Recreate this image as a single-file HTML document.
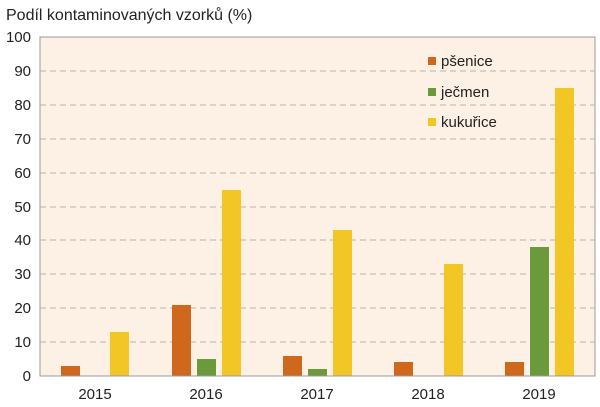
<!DOCTYPE html>
<html><head><meta charset="utf-8"><style>body{margin:0;background:#fff}svg{display:block}text{font-family:"Liberation Sans",sans-serif;fill:#222}</style></head><body>
<svg width="600" height="407" viewBox="0 0 600 407">
<text x="6" y="20" font-size="16">Podíl kontaminovaných vzorků (%)</text>
<rect x="40" y="37" width="555" height="339" fill="#fcf1e4" stroke="#9a9a9a" stroke-width="1"/>
<g stroke="#b8b2aa" stroke-width="1" stroke-dasharray="6,4">
<line x1="40" x2="595" y1="71" y2="71"/><line x1="40" x2="595" y1="105" y2="105"/><line x1="40" x2="595" y1="139" y2="139"/><line x1="40" x2="595" y1="173" y2="173"/><line x1="40" x2="595" y1="207" y2="207"/><line x1="40" x2="595" y1="240" y2="240"/><line x1="40" x2="595" y1="274" y2="274"/><line x1="40" x2="595" y1="308" y2="308"/><line x1="40" x2="595" y1="342" y2="342"/>
</g>
<g font-size="15" text-anchor="end">
<text x="31" y="42">100</text><text x="31" y="76">90</text><text x="31" y="110">80</text><text x="31" y="144">70</text><text x="31" y="178">60</text><text x="31" y="212">50</text><text x="31" y="245">40</text><text x="31" y="279">30</text><text x="31" y="313">20</text><text x="31" y="347">10</text><text x="31" y="381">0</text>
</g>
<g>
<rect x="61" y="366" width="19" height="10" fill="#cf671c"/><rect x="110" y="332" width="19" height="44" fill="#f2c624"/>
<rect x="172" y="305" width="19" height="71" fill="#cf671c"/><rect x="197" y="359" width="19" height="17" fill="#6a9a3c"/><rect x="222" y="190" width="19" height="186" fill="#f2c624"/>
<rect x="283" y="356" width="19" height="20" fill="#cf671c"/><rect x="308" y="369" width="19" height="7" fill="#6a9a3c"/><rect x="333" y="230" width="19" height="146" fill="#f2c624"/>
<rect x="394" y="362" width="19" height="14" fill="#cf671c"/><rect x="444" y="264" width="19" height="112" fill="#f2c624"/>
<rect x="505" y="362" width="19" height="14" fill="#cf671c"/><rect x="530" y="247" width="19" height="129" fill="#6a9a3c"/><rect x="555" y="88" width="19" height="288" fill="#f2c624"/>
</g>
<line x1="40" x2="595" y1="376" y2="376" stroke="#9a9a9a"/>
<g font-size="15" text-anchor="middle">
<text x="95" y="399">2015</text><text x="206" y="399">2016</text><text x="317" y="399">2017</text><text x="428" y="399">2018</text><text x="539" y="399">2019</text>
</g>
<rect x="428" y="57" width="8" height="8" fill="#cf671c"/><text x="441" y="66" font-size="15">pšenice</text>
<rect x="428" y="88" width="8" height="8" fill="#6a9a3c"/><text x="441" y="97" font-size="15">ječmen</text>
<rect x="428" y="118" width="8" height="8" fill="#f2c624"/><text x="441" y="127" font-size="15">kukuřice</text>
</svg>
</body></html>
